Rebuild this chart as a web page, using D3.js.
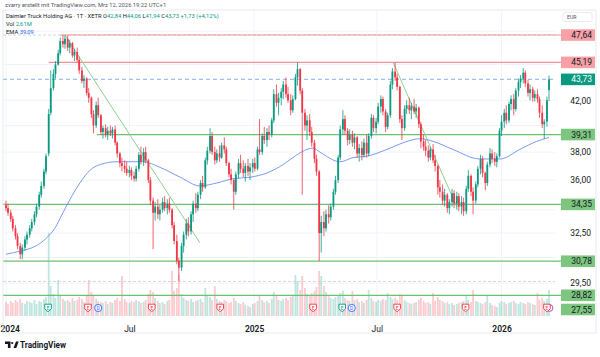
<!DOCTYPE html>
<html><head><meta charset="utf-8">
<script src="https://cdn.jsdelivr.net/npm/d3@7"></script>
<style>body{margin:0;background:#fff}svg{display:block;font-family:Roboto,"Noto Sans",sans-serif}</style>
</head><body><svg id="c" width="600" height="357"></svg>
<script>
// ---------- data (half-week candles) ----------
const startDay = "2024-01-01";
const opens = [34.3,34.1,33.8,33.4,32.8,32.3,31.7,31.2,31.6,32.1,
32.4,32.8,33.2,33.7,34.2,35.0,35.6,36.6,37.9,41.0,
43.0,44.2,45.0,46.0,47.1,46.8,47.3,46.5,46.9,45.8,
46.1,45.4,44.5,43.6,43.8,42.6,42.2,40.9,40.0,41.6,
40.8,39.5,39.8,39.3,39.6,39.4,39.7,38.7,37.9,37.2,
37.0,36.8,36.5,36.7,36.3,36.1,36.8,37.8,37.3,38.0,
37.4,36.0,34.6,33.8,34.2,33.7,34.0,34.5,34.1,34.4,
34.0,33.0,32.0,30.8,30.4,31.7,32.4,33.1,32.6,33.7,
34.4,34.1,35.0,35.8,35.5,37.4,38.1,39.2,38.0,37.4,
37.9,37.6,38.5,38.2,37.2,36.4,36.0,35.2,36.4,37.2,
36.8,36.5,37.0,36.6,36.9,37.2,36.8,38.2,38.0,39.2,
38.9,39.5,39.3,40.4,42.5,41.8,42.2,42.7,43.3,42.5,
42.0,41.2,42.1,43.9,44.6,42.8,41.0,40.0,40.4,39.5,
38.7,37.5,36.6,32.5,33.2,32.8,33.7,33.5,34.2,35.2,
36.0,37.6,39.7,40.5,39.6,38.9,39.3,38.7,39.1,37.9,
38.3,37.8,38.7,37.9,39.2,40.6,39.8,40.3,41.5,42.1,
41.1,39.9,40.8,43.3,44.4,43.9,43.1,40.5,39.8,41.3,
41.6,41.2,41.5,41.1,41.4,40.1,38.8,38.4,38.1,37.6,
38.2,37.4,37.0,35.5,35.2,34.6,35.0,34.1,34.5,35.1,
34.4,34.9,34.2,34.5,33.9,35.4,36.3,35.2,34.6,35.7,
36.8,37.5,36.5,35.8,37.1,37.9,37.5,37.3,37.7,39.6,
40.3,41.0,40.4,41.7,42.1,41.3,42.8,43.5,43.8,44.3,
43.4,42.6,42.9,42.2,42.5,42.1,41.0,40.1,40.3,42.84];
const highs = [34.6,34.4,34.0,33.6,33.0,32.5,31.9,31.8,32.3,32.6,
33.0,33.4,33.9,34.4,35.2,35.9,36.8,37.9,41.3,44.5,
44.6,45.3,46.3,47.4,47.64,47.6,47.6,47.2,47.0,46.4,
46.5,45.7,44.8,44.1,43.9,43.0,42.3,41.2,41.9,42.2,
40.9,40.0,40.1,39.9,40.0,39.9,40.0,38.8,38.0,37.6,
37.4,37.3,37.0,36.9,36.6,37.0,38.0,38.4,38.3,38.4,
37.5,36.2,34.8,34.5,34.7,34.3,34.8,34.9,34.7,34.8,
34.1,33.2,32.4,31.0,31.9,32.6,33.4,33.5,33.9,34.6,
35.1,35.2,36.0,36.3,37.6,38.4,39.8,39.5,38.4,38.2,
38.5,38.7,39.1,38.4,37.3,36.8,36.1,36.6,37.5,37.8,
37.4,37.2,37.5,37.2,37.5,37.6,38.4,40.5,39.4,39.9,
39.8,40.0,40.6,42.9,43.3,42.6,43.0,43.6,43.9,43.1,
42.5,42.4,44.2,45.2,44.7,43.0,41.3,40.8,40.9,39.9,
38.9,37.8,36.7,33.6,33.9,34.0,34.3,34.4,35.4,36.3,
37.8,40.0,41.2,40.8,39.8,39.7,39.6,39.4,39.2,38.6,
38.8,39.0,39.3,39.4,40.9,40.8,40.6,41.8,42.4,42.3,
41.3,41.0,43.6,44.7,45.2,44.2,43.2,40.8,41.6,42.0,
42.2,41.8,42.1,41.7,41.5,40.3,39.3,38.9,38.5,38.4,
38.6,37.8,37.1,36.0,35.7,35.4,35.1,34.7,35.4,35.3,
35.2,35.1,34.9,34.8,35.6,36.7,36.4,35.5,35.9,37.0,
37.8,37.7,36.6,37.3,38.3,38.2,38.0,37.9,39.8,40.8,
41.3,41.6,41.9,42.4,42.5,43.0,43.8,44.1,44.7,44.5,
43.7,43.3,43.1,42.8,42.9,42.3,41.6,40.5,42.3,44.06];
const lows = [33.9,33.6,33.2,32.6,32.1,31.5,30.9,30.9,31.4,31.8,
32.2,32.6,33.0,33.5,34.0,34.8,35.4,36.4,37.7,40.8,
42.8,43.8,44.9,45.8,46.5,46.4,46.2,46.0,45.6,45.3,
45.2,44.2,43.4,43.0,42.4,41.8,40.6,39.4,39.8,40.6,
39.3,39.0,39.1,38.9,39.2,39.0,38.5,37.6,36.9,36.6,
36.5,36.3,36.2,36.0,35.9,35.9,36.6,37.1,37.0,37.2,
35.8,34.3,31.5,33.3,33.4,33.3,33.8,33.9,33.7,33.8,
32.8,31.8,30.6,29.6,30.2,31.3,32.1,32.3,32.4,33.2,
33.8,33.9,34.7,35.2,35.4,37.1,37.9,37.8,37.1,37.2,
37.3,37.5,37.9,37.0,36.2,35.7,34.0,35.0,36.1,36.5,
36.2,35.9,36.3,36.0,36.5,36.6,36.7,37.8,37.8,38.6,
38.4,38.9,39.1,40.2,41.5,40.8,41.6,42.1,42.2,41.8,
40.8,41.0,42.0,43.2,42.5,35.0,39.6,38.9,39.2,38.4,
37.2,36.3,30.8,31.3,32.3,32.6,33.1,33.3,34.0,35.0,
35.8,37.4,39.3,39.3,38.5,38.6,38.4,38.2,37.6,37.3,
37.4,37.6,37.6,37.7,39.0,39.5,39.4,40.1,41.0,40.8,
39.5,39.7,40.6,42.9,43.6,42.8,40.2,38.9,39.6,40.9,
40.9,40.5,40.9,40.6,39.8,38.3,38.1,37.7,37.3,37.4,
37.2,36.6,35.0,34.8,34.3,34.2,33.8,33.7,34.2,34.1,
34.0,33.9,33.7,33.6,33.7,35.2,34.9,33.7,34.4,35.5,
36.4,36.2,35.3,35.6,36.9,37.2,37.0,36.9,37.6,39.2,
39.8,40.1,40.2,41.2,40.8,41.1,42.3,43.0,43.4,43.1,
42.3,42.0,41.9,41.9,41.8,40.6,39.8,39.0,39.9,41.94];
const closes = [34.1,33.8,33.4,32.8,32.3,31.7,31.2,31.6,32.1,32.4,
32.8,33.2,33.7,34.2,35.0,35.6,36.6,37.7,40.9,43.0,
44.2,45.0,46.0,47.1,46.8,47.3,46.5,46.9,45.8,46.1,
45.4,44.5,43.6,43.8,42.6,42.2,40.9,40.0,41.6,40.8,
39.5,39.8,39.3,39.6,39.4,39.7,38.7,37.9,37.2,37.0,
36.8,36.5,36.7,36.3,36.1,36.8,37.8,37.3,38.0,37.4,
36.0,34.6,33.8,34.2,33.7,34.0,34.5,34.1,34.4,34.0,
33.0,32.0,30.8,30.4,31.7,32.4,33.1,32.6,33.7,34.4,
34.1,35.0,35.8,35.5,37.4,38.1,39.2,38.0,37.4,37.9,
37.6,38.5,38.2,37.2,36.4,36.0,35.2,36.4,37.2,36.8,
36.5,37.0,36.6,36.9,37.2,36.8,38.2,38.0,39.2,38.9,
39.5,39.3,40.4,42.5,41.8,42.2,42.7,43.3,42.5,42.0,
41.2,42.1,43.9,44.6,42.8,41.0,40.0,40.4,39.5,38.7,
37.5,36.6,32.5,33.2,32.8,33.7,33.5,34.2,35.2,36.0,
37.6,39.7,40.5,39.6,38.9,39.3,38.7,39.1,37.9,38.3,
37.8,38.7,37.9,39.2,40.6,39.8,40.3,41.5,42.1,41.1,
39.9,40.8,43.3,44.4,43.9,43.1,40.5,39.8,41.3,41.6,
41.2,41.5,41.1,41.4,40.1,38.8,38.4,38.1,37.6,38.2,
37.4,37.0,35.5,35.2,34.6,35.0,34.1,34.5,35.1,34.4,
34.9,34.2,34.5,33.9,35.4,36.3,35.2,34.6,35.7,36.8,
37.5,36.5,35.8,37.1,37.9,37.5,37.3,37.7,39.6,40.3,
41.0,40.4,41.7,42.1,41.3,42.8,43.5,43.8,44.3,43.4,
42.6,42.9,42.2,42.5,42.1,41.0,40.1,40.3,42.0,43.73];
const volumes = [1.4,1.2,1.5,1.3,1.6,1.4,1.7,1.3,1.2,1.5,
1.4,1.3,1.6,1.2,1.5,1.4,1.7,1.9,8.3,3.0,
2.2,1.8,3.6,2.0,1.7,1.5,1.6,1.4,1.8,1.5,
1.6,1.9,1.7,1.4,2.0,3.6,2.4,2.1,1.7,1.5,
1.4,1.3,1.5,1.2,1.4,1.3,1.6,1.8,1.5,4.0,
1.7,1.4,1.3,1.5,1.4,1.6,1.5,1.3,1.4,1.6,
2.2,2.6,2.4,1.8,1.5,1.3,1.4,1.2,1.5,1.6,
4.5,2.5,2.8,4.1,2.2,1.8,1.6,1.5,1.7,1.4,
1.5,1.6,1.7,1.4,2.8,2.0,1.9,1.6,3.0,1.7,
1.5,1.4,1.6,1.5,1.3,1.4,1.8,1.5,1.3,1.2,
1.4,1.1,1.0,0.9,1.2,1.3,1.5,2.0,1.6,1.4,
1.5,1.3,1.7,2.4,2.0,1.6,1.5,1.7,1.8,1.6,
1.9,2.0,4.1,3.5,2.6,4.0,2.8,2.2,2.0,2.3,
2.5,2.9,4.5,4.0,3.0,2.4,2.0,1.8,1.7,1.9,
2.1,2.3,2.5,1.8,1.6,1.5,2.5,1.6,1.7,1.4,
1.5,1.3,1.6,2.6,1.8,1.5,1.4,1.6,1.5,1.7,
1.6,2.3,1.9,1.7,1.8,1.6,2.2,2.0,1.6,1.4,
1.3,1.2,1.3,1.4,1.6,1.8,1.5,1.3,1.4,1.2,
2.3,1.5,1.9,1.6,1.5,1.3,1.4,1.2,1.3,1.1,
1.2,1.3,1.4,1.5,2.0,1.6,1.4,2.6,1.5,1.4,
1.3,1.2,1.4,2.0,1.3,1.1,1.0,0.9,1.3,1.5,
1.4,1.2,1.3,1.4,1.5,1.3,1.2,1.4,1.3,1.2,
1.4,1.3,1.2,1.1,2.3,1.6,1.8,1.5,1.7,2.61];

// EMA line, read at points
const emaDates = ["2024-01-01","2024-01-23","2024-02-14","2024-03-01","2024-03-13","2024-03-25","2024-04-07","2024-04-19","2024-05-04","2024-05-19","2024-06-13","2024-07-21","2024-08-15","2024-09-14","2024-10-13","2024-11-07","2024-12-01","2024-12-26","2025-01-20","2025-02-13","2025-03-05","2025-03-20","2025-03-29","2025-04-08","2025-05-08","2025-05-27","2025-06-16","2025-07-16","2025-08-04","2025-09-03","2025-09-22","2025-10-21","2025-11-30","2025-12-30","2026-01-28","2026-02-22","2026-03-12"];
const emaValues = [31.2,31.4,31.7,32.2,32.8,33.8,34.9,35.8,36.7,37.1,37.3,37.3,36.9,36.2,35.6,35.8,36.1,36.2,36.5,37.1,37.8,38.2,38.3,38.0,37.3,37.6,37.7,38.2,38.6,39.0,38.8,38.2,37.5,37.5,38.2,38.8,39.09];

// horizontal levels
const levelValues = [47.64,45.19,43.73,39.31,34.35,30.78,28.82,27.55];
const levelKinds  = ["res","res","last","sup","sup","sup","sup","sup"];
const levelStarts = ["2024-03-21","2024-03-04",null,"2024-05-14",null,null,null,null];

// trend lines
const trendFrom = ["2024-03-28","2025-07-25"], trendFromVal = [47.64,45.19];
const trendTo   = ["2024-10-13","2025-10-27"], trendToVal   = [31.9,34.2];

// events
const eventDates = ["2024-03-03","2024-05-01","2024-05-16","2024-08-03","2024-11-12","2025-03-29","2025-05-11","2025-05-25","2025-07-31","2025-11-09","2026-03-09"];
const eventKinds = ["Eg","Er","D","Er","Er","Er","Eg","D","Er","Er","Er"];

// axes
const priceTicks = [48,45,42,40,38,36,34,32.5,31,29.5];
const timeTicks = ["2024-01-01","2024-07-01","2025-01-01","2025-07-01","2026-01-01"];
const timeLabels = ["2024","Jul","2025","Jul","2026"];

// ---------- drawing ----------
const UP="#089981", DN="#f23645";
const pd = d3.timeParse("%Y-%m-%d");
const svg = d3.select("#c");
const paneL=3, paneR=596, paneT=10, paneB=316, plotR=555, frameB=333;

const x = d3.scaleTime().domain([pd("2024-01-01"), pd("2026-03-12")]).range([6,549]);
const y = d3.scaleLog().domain([27.69,50]).range([paneB,paneT]);
const yv = d3.scaleLinear().domain([0,10]).range([paneB,paneB-100]);

const t0 = pd(startDay);
const data = closes.map((c,i)=>({date:d3.timeDay.offset(t0, Math.floor(i/2)*7 + (i%2)*3),
  o:opens[i],h:highs[i],l:lows[i],c:c,v:volumes[i]}));

svg.append("rect").attr("width",600).attr("height",357).attr("fill","#fff");
svg.append("defs").append("clipPath").attr("id","clip").append("rect")
  .attr("x",paneL).attr("y",paneT).attr("width",561-paneL).attr("height",paneB-paneT);

// grid
const grid = svg.append("g");
grid.selectAll("line.h").data(priceTicks).join("line")
  .attr("x1",paneL).attr("x2",plotR).attr("y1",d=>y(d)).attr("y2",d=>y(d))
  .attr("stroke","#f0f3fa").attr("stroke-width",1);
grid.selectAll("line.v").data(timeTicks).join("line")
  .attr("x1",d=>x(pd(d))).attr("x2",d=>x(pd(d))).attr("y1",paneT).attr("y2",paneB)
  .attr("stroke","#f0f3fa").attr("stroke-width",1);

const plot = svg.append("g").attr("clip-path","url(#clip)");

// volume
plot.append("g").selectAll("rect").data(data).join("rect")
  .attr("x",d=>x(d.date)-0.9).attr("width",1.8)
  .attr("y",d=>yv(d.v)).attr("height",d=>yv(0)-yv(d.v))
  .attr("fill",d=>d.c>=d.o?UP:DN).attr("opacity",0.26);

// high / low dashed lines
const hi = d3.max(highs), lo = d3.min(lows);
plot.selectAll("line.hl").data([hi,lo]).join("line")
  .attr("x1",paneL).attr("x2",plotR).attr("y1",d=>y(d)).attr("y2",d=>y(d))
  .attr("stroke","#c9cbd1").attr("stroke-width",0.8).attr("stroke-dasharray","3,2");

// levels
levelValues.forEach((v,i)=>{
  const k = levelKinds[i];
  const x1 = levelStarts[i] ? x(pd(levelStarts[i])) : paneL;
  const ln = plot.append("line").attr("x1",x1).attr("x2",561).attr("y1",y(v)).attr("y2",y(v));
  if(k==="res") ln.attr("stroke","#f58f97").attr("stroke-width",1.1);
  else if(k==="sup") ln.attr("stroke","#6cc070").attr("stroke-width",1.3);
  else ln.attr("stroke","#9dbff2").attr("stroke-width",1.1).attr("stroke-dasharray","4,3").attr("x2",plotR);
});

// trend lines
trendFrom.forEach((d,i)=>{
  plot.append("line").attr("x1",x(pd(d))).attr("y1",y(trendFromVal[i]))
    .attr("x2",x(pd(trendTo[i]))).attr("y2",y(trendToVal[i]))
    .attr("stroke","#8fd18f").attr("stroke-width",1);
});

// EMA
plot.append("path").datum(emaDates.map((d,i)=>[pd(d),emaValues[i]]))
  .attr("d",d3.line().x(d=>x(d[0])).y(d=>y(d[1])).curve(d3.curveMonotoneX))
  .attr("fill","none").attr("stroke","#6d8ff2").attr("stroke-width",0.9);

// candles
const cg = plot.append("g");
cg.selectAll("line").data(data).join("line")
  .attr("x1",d=>x(d.date)).attr("x2",d=>x(d.date)).attr("y1",d=>y(d.h)).attr("y2",d=>y(d.l))
  .attr("stroke",d=>d.c>=d.o?UP:DN).attr("stroke-width",0.8);
cg.selectAll("rect").data(data).join("rect")
  .attr("x",d=>x(d.date)-0.9).attr("width",1.8)
  .attr("y",d=>y(Math.max(d.o,d.c))).attr("height",d=>Math.max(0.8,Math.abs(y(d.o)-y(d.c))))
  .attr("fill",d=>d.c>=d.o?UP:DN);

// events
const eg = svg.append("g");
eventDates.forEach((d,i)=>{
  const cx = x(pd(d)), cy = 308, k = eventKinds[i];
  if(k==="D"){
    eg.append("circle").attr("cx",cx).attr("cy",cy).attr("r",3.6).attr("fill","#fff").attr("stroke","#2962ff").attr("stroke-width",0.9);
    eg.append("text").attr("x",cx).attr("y",cy+1.8).attr("text-anchor","middle").attr("font-size",5).attr("fill","#2962ff").text("D");
  } else {
    const col = k==="Eg"?UP:DN;
    if(i===eventDates.length-1) eg.append("circle").attr("cx",cx+2.5).attr("cy",cy).attr("r",3.4).attr("fill","#fff").attr("stroke","#9c27b0").attr("stroke-width",0.8);
    eg.append("path").attr("d",`M${cx-3.3},${cy-3.8}h6.6v4.6l-3.3,3l-3.3,-3z`).attr("fill","#fff").attr("stroke",col).attr("stroke-width",0.9);
    eg.append("text").attr("x",cx).attr("y",cy+1.5).attr("text-anchor","middle").attr("font-size",4.8).attr("fill",col).text("E");
  }
});

// time axis
const xa = svg.append("g").attr("transform",`translate(0,${paneB})`)
  .call(d3.axisBottom(x).tickValues(timeTicks.map(pd)).tickSize(0).tickPadding(10)
    .tickFormat((d,i)=>timeLabels[i]));
xa.select(".domain").remove();
xa.selectAll("text").attr("font-size",8.5).attr("fill","#131722")
  .attr("font-family","Roboto,sans-serif")
  .attr("font-weight",(d,i)=>timeLabels[i]==="Jul"?400:600);
// keep a label that would run past the left edge fully inside the picture
xa.selectAll(".tick").each(function(){
  const t = d3.select(this), tx = d3.select(this).select("text");
  const b = tx.node().getBBox();
  const tickX = +t.attr("transform").match(/translate\(([-\d.]+)/)[1];
  if(tickX + b.x < 0.5) tx.attr("text-anchor","start").attr("x",-tickX+0.5);
});

// price axis: tick labels hidden where a level label sits on top of them
const labelY = levelValues.map(v=>Math.min(y(v), paneB-6.5));
const shownTicks = priceTicks.filter(t=>labelY.every(ly=>Math.abs(ly-y(t))>10));
const ya = svg.append("g").attr("transform",`translate(591,0)`)
  .call(d3.axisLeft(y).tickValues(shownTicks).tickSize(0).tickPadding(0)
    .tickFormat(d=>d3.format(".2f")(d).replace(".",",")));
ya.select(".domain").remove();
ya.selectAll("text").attr("font-size",8.5).attr("fill","#131722").attr("font-family","Roboto,sans-serif");

// level labels
levelValues.forEach((v,i)=>{
  const k = levelKinds[i];
  const cy = labelY[i];
  const fill = k==="res"?"#f7a1a7":k==="sup"?"#7dc67f":"#089981";
  svg.append("rect").attr("x",561).attr("y",cy-5.8).attr("width",34).attr("height",11.6).attr("fill",fill);
  svg.append("text").attr("x",592).attr("y",cy+3).attr("text-anchor","end").attr("font-size",8.5)
    .attr("fill",k==="last"?"#fff":"#131722").text(d3.format(".2f")(v).replace(".",","));
});

// EUR box
svg.append("rect").attr("x",563).attr("y",12.5).attr("width",29).attr("height",9).attr("rx",1.5)
  .attr("fill","#fff").attr("stroke","#e0e3eb").attr("stroke-width",0.7);
svg.append("text").attr("x",567).attr("y",19.3).attr("font-size",5.2).attr("fill","#50535e").text("EUR");

// frame
svg.append("rect").attr("x",paneL).attr("y",paneT).attr("width",paneR-paneL).attr("height",frameB-paneT)
  .attr("fill","none").attr("stroke","#e0e3eb").attr("stroke-width",0.8);

// header
svg.append("text").attr("x",5).attr("y",7).attr("font-size",5.8).attr("fill","#50535e")
  .text("zvarry erstellt mit TradingView.com, Mrz 12, 2026 19:22 UTC+1");
const h2 = svg.append("text").attr("x",6).attr("y",18.3).attr("font-size",5.8).attr("fill","#131722");
h2.append("tspan").text("Daimler Truck Holding AG · 1T · XETR ");
[["O","42,84"],["H","44,06"],["L","41,94"],["C","43,73"]].forEach(p=>{
  h2.append("tspan").text(p[0]); h2.append("tspan").attr("fill",UP).text(p[1]+" ");
});
h2.append("tspan").attr("fill",UP).text("+1,73 (+4,12%)");
const h3 = svg.append("text").attr("x",6).attr("y",26.3).attr("font-size",5.8).attr("fill","#131722");
h3.append("tspan").text("Vol  "); h3.append("tspan").attr("fill",UP).text("2,61M");
const h4 = svg.append("text").attr("x",6).attr("y",33.5).attr("font-size",5.8).attr("fill","#131722");
h4.append("tspan").text("EMA  "); h4.append("tspan").attr("fill","#2962ff").text("39,09");

// logo
const lg = svg.append("g").attr("fill","#131722");
lg.append("path").attr("d","M5,341.5h5.5v6.5h-2.6v-4h-2.9z");
lg.append("circle").attr("cx",12.2).attr("cy",343).attr("r",1.1);
lg.append("path").attr("d","M13.6,348l2.4,-6.5h2.7l-2.4,6.5z");
svg.append("text").attr("x",20).attr("y",348.3).attr("font-size",8.2).attr("font-weight",700)
  .attr("fill","#131722").text("TradingView");
</script></body></html>
